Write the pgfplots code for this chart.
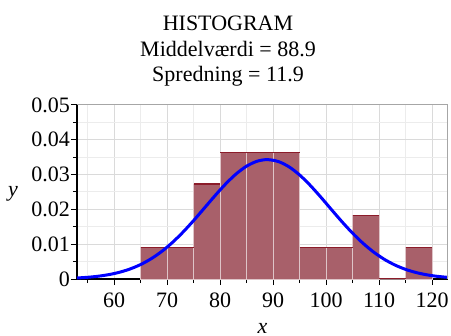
\documentclass[border=0pt]{standalone}
\usepackage{pgfplots}
\pgfplotsset{compat=1.18}
\usepackage{fontspec}
\setmainfont{Liberation Serif}
\definecolor{barfill}{RGB}{168,96,106}
\definecolor{baredge}{RGB}{222,196,200}
\definecolor{bartop}{RGB}{140,28,42}
\definecolor{majgrid}{RGB}{218,218,218}
\definecolor{mingrid}{RGB}{236,236,236}
\begin{document}
\fontsize{11bp}{12.75bp}\selectfont
\begin{tikzpicture}
\begin{axis}[
  scale only axis,
  width=185.5bp, height=87bp,
  xmin=53, xmax=123, ymin=0, ymax=0.05,
  xtick={60,70,80,90,100,110,120},
  minor xtick={55,65,75,85,95,105,115},
  ytick={0,0.01,0.02,0.03,0.04,0.05},
  yticklabels={0,0.01,0.02,0.03,0.04,0.05},
  minor ytick={0.005,0.015,0.025,0.035,0.045},
  scaled y ticks=false,
  /pgf/number format/assume math mode=true,
  tick align=outside,
  major tick length=3bp,
  minor tick length=2bp,
  tick style={black, line width=0.5bp},
  axis x line*=bottom, axis y line*=left,
  axis line style={black, line width=0.6bp, -},
  grid=both,
  major grid style={majgrid, line width=0.5bp},
  minor grid style={mingrid, line width=0.5bp},
  yticklabel style={inner xsep=0.4bp},
  xticklabel style={inner ysep=3.5bp},
  xlabel={\textit{x}}, ylabel={\textit{y}},
  every axis x label/.style={at={(rel axis cs:0.5,0)}, anchor=north, yshift=-18.5bp},
  every axis y label/.style={at={(rel axis cs:0,0.5)}, anchor=center, xshift=-32bp, yshift=-1bp},
  clip=false,
]
\addplot[ybar interval, fill=barfill, draw=baredge, line width=0.5bp] coordinates {
  (65,0.00909) (70,0.00909) (75,0.02727) (80,0.03636) (85,0.03636) (90,0.03636)
  (95,0.00909) (100,0.00909) (105,0.01818) (110,0) (115,0.00909) (120,0.00909)};
\addplot[jump mark left, bartop, line width=0.6bp, mark=none] coordinates {
  (65,0.00909) (70,0.00909) (75,0.02727) (80,0.03636) (85,0.03636) (90,0.03636)
  (95,0.00909) (100,0.00909) (105,0.01818) (110,0.0002) (115,0.00909) (120,0.00909)};
\addplot[blue, line width=1.5bp, smooth, mark=none] coordinates {
  (53,0.000293) (55,0.000490) (57,0.000797) (59,0.001259) (61,0.001930)
  (63,0.002873) (65,0.004152) (67,0.005825) (69,0.007935) (71,0.010493)
  (73,0.013472) (75,0.016793) (77,0.020322) (79,0.023876) (81,0.027236)
  (83,0.030161) (85,0.032427) (87,0.033848) (88.9,0.034303) (91,0.033748)
  (93,0.032236) (95,0.029894) (97,0.026915) (99,0.023527) (101,0.019964)
  (103,0.016449) (105,0.013157) (107,0.010217) (109,0.007703) (111,0.005639)
  (113,0.004007) (115,0.002765) (117,0.001852) (119,0.001204) (121,0.000760)
  (123,0.000466)};
\draw[gray!70, line width=0.5bp] (rel axis cs:0,1) -- (rel axis cs:1,1) -- (rel axis cs:1,0);
\coordinate (sw) at (rel axis cs:0,0);
\coordinate (ne) at (rel axis cs:1,1);
\coordinate (nw) at (rel axis cs:0,1);
\end{axis}
\node[anchor=base] at ([shift={(75.5bp,11.5bp)}]nw) {Spredning = 11.9};
\node[anchor=base] at ([shift={(75.5bp,24.25bp)}]nw) {Middelværdi = 88.9};
\node[anchor=base] at ([shift={(75.5bp,37bp)}]nw) {HISTOGRAM};
\pgfresetboundingbox
\path[use as bounding box] ([shift={(-38.5bp,-28.5bp)}]sw) rectangle ([shift={(1.5bp,52.5bp)}]ne);
\end{tikzpicture}
\end{document}
